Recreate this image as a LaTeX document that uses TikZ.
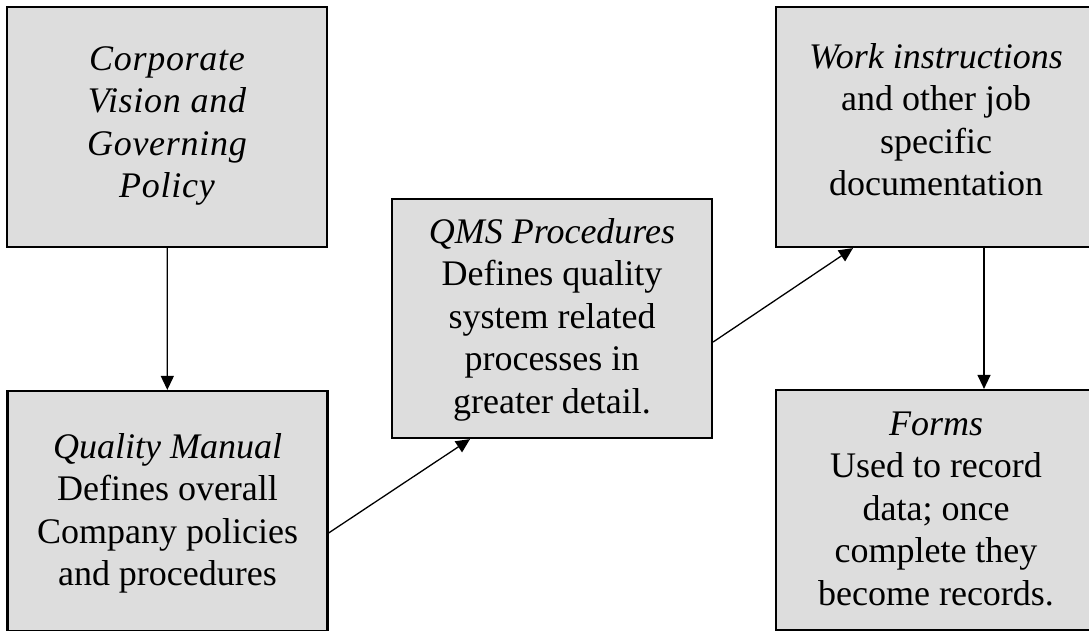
\documentclass[tikz,border=0pt]{standalone}
\usepackage{fontspec}
\setmainfont{Liberation Serif}
\usetikzlibrary{arrows.meta}
\definecolor{boxgray}{RGB}{221,221,221}
\tikzset{
  docbox/.style={draw=black,line width=2.2pt,fill=boxgray,minimum width=320pt,minimum height=240pt,inner sep=0pt},
  doctext/.style={align=center,anchor=base,inner sep=0pt,font=\fontsize{36}{42.5}\selectfont},
  flow/.style={line width=1.3pt,-{Triangle[length=14pt,width=13pt]}}
}

\begin{document}
\begin{tikzpicture}[x=1pt,y=-1pt]
\useasboundingbox (0,0) rectangle (1089,630);
\clip (0,0) rectangle (1089,630);

% the five documents
\node[docbox] (vision) at (167,127) {};
\node[docbox] (manual) at (167.5,511) {};
\node[docbox,minimum height=239pt] (procs) at (552,318.5) {};
\node[docbox] (workinst) at (936,127) {};
\node[docbox] (forms) at (936,510) {};

% texts, placed by the baseline of their last line
\node[doctext,font=\fontsize{36}{42.5}\selectfont\itshape\addfontfeature{LetterSpace=2}] (vision-t) at (vision |- 0,197.5) {Corporate\\Vision and\\Governing\\Policy};
\node[doctext] (manual-t) at (manual |- 0,585.5) {\textit{Quality Manual}\\Defines overall\\Company policies\\and procedures};
\node[doctext] (procs-t) at (procs |- 0,413) {\textit{QMS Procedures}\\Defines quality\\system related\\processes in\\greater detail.};
\node[doctext] (workinst-t) at (workinst |- 0,195.5) {\textit{Work instructions}\\and other job\\specific\\documentation};
\node[doctext] (forms-t) at (forms |- 0,605) {\textit{Forms}\\Used to record\\data; once\\complete they\\become records.};

% arrows
\draw[flow] (vision) -- (manual);
\draw[flow] ([yshift=-22pt]manual.east) -- ([xshift=-82pt]procs.south);
\draw[flow] ([yshift=-23.5pt]procs.east) -- ([xshift=-83pt]workinst.south);
\draw[flow] ([xshift=48pt]workinst.south) -- ([xshift=48pt]forms.north);
\end{tikzpicture}
\end{document}
